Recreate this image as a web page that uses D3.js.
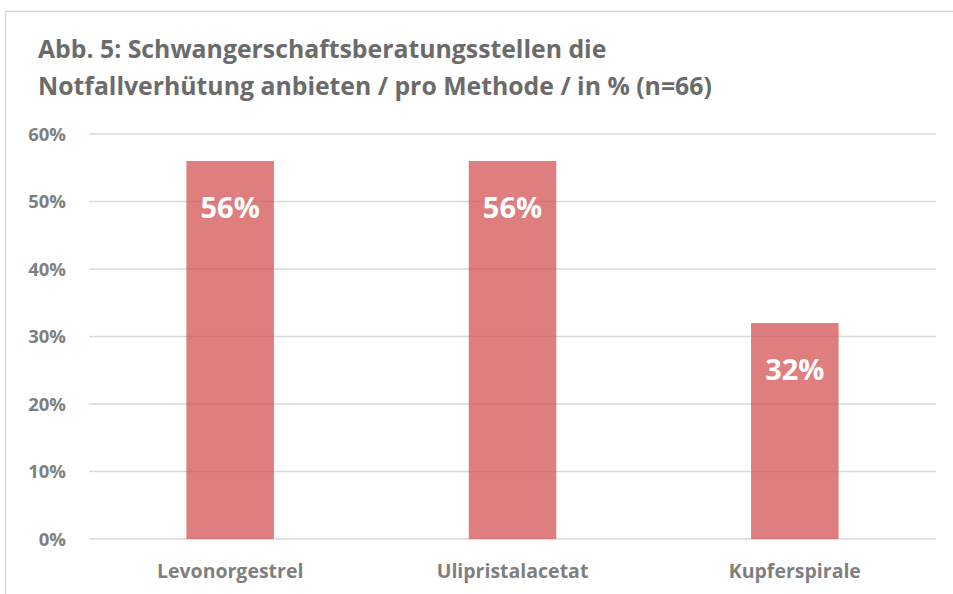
<!DOCTYPE html>
<html lang="de">
<head>
<meta charset="UTF-8"/>
<title>Abb. 5 Notfallverhütung</title>
<script src="https://d3js.org/d3.v7.min.js"></script>
<style>
  body { margin: 0; background: #fff; }
  svg { display: block; }
  text { font-family: "Open Sans", Lato, sans-serif; font-weight: bold; }
</style>
</head>
<body>
<script>
  var w = 953;
  var h = 594;

  // data
  var titleLines = ["Abb. 5: Schwangerschaftsberatungsstellen die",
                    "Notfallverhütung anbieten / pro Methode / in %  (n=66)"];
  var methods = ["Levonorgestrel", "Ulipristalacetat", "Kupferspirale"];
  var percents = [56, 56, 32];
  var yTicks = [0, 10, 20, 30, 40, 50, 60];

  var plot = { left: 89, right: 936, top: 134, bottom: 539 };

  var svg = d3.select("body")
              .append("svg")
              .attr("width", w)
              .attr("height", h);

  // chart frame (cropped at right and bottom)
  svg.append("rect")
     .attr("x", 5.5)
     .attr("y", 11.5)
     .attr("width", w + 20)
     .attr("height", h + 20)
     .attr("fill", "none")
     .attr("stroke", "#d9d9d9")
     .attr("stroke-width", 1.5);

  // title
  svg.selectAll("text.title")
     .data(titleLines)
     .enter()
     .append("text")
     .attr("class", "title")
     .attr("x", 38)
     .attr("y", function(d, i) { return 58 + i * 37; })
     .attr("font-size", "24.8px")
     .attr("fill", "#6b6b6b")
     .text(function(d) { return d; });

  var xScale = d3.scaleBand()
                 .domain(methods)
                 .range([plot.left, plot.right])
                 .paddingInner(0.69)
                 .paddingOuter(0.345);

  var yScale = d3.scaleLinear()
                 .domain([0, 60])
                 .range([plot.bottom, plot.top]);

  // gridlines
  svg.selectAll("line.grid")
     .data(yTicks)
     .enter()
     .append("line")
     .attr("class", "grid")
     .attr("x1", plot.left)
     .attr("x2", plot.right)
     .attr("y1", function(d) { return yScale(d); })
     .attr("y2", function(d) { return yScale(d); })
     .attr("stroke", "#d9d9d9")
     .attr("stroke-width", 1.5);

  // y tick labels
  svg.selectAll("text.ytick")
     .data(yTicks)
     .enter()
     .append("text")
     .attr("class", "ytick")
     .attr("x", 66)
     .attr("y", function(d) { return yScale(d); })
     .attr("dy", "0.36em")
     .attr("text-anchor", "end")
     .attr("font-size", "18.5px")
     .attr("fill", "#7f7f7f")
     .text(function(d) { return d + "%"; });

  // bars
  svg.selectAll("rect.bar")
     .data(percents)
     .enter()
     .append("rect")
     .attr("class", "bar")
     .attr("x", function(d, i) { return xScale(methods[i]); })
     .attr("y", function(d) { return yScale(d); })
     .attr("width", xScale.bandwidth())
     .attr("height", function(d) { return yScale(0) - yScale(d); })
     .attr("fill", "#d35353")
     .attr("fill-opacity", 0.75);

  // value labels inside bars
  svg.selectAll("text.value")
     .data(percents)
     .enter()
     .append("text")
     .attr("class", "value")
     .attr("x", function(d, i) { return xScale(methods[i]) + xScale.bandwidth() / 2; })
     .attr("y", function(d) { return yScale(d) + 57; })
     .attr("text-anchor", "middle")
     .attr("font-size", "29px")
     .attr("fill", "#ffffff")
     .text(function(d) { return d + "%"; });

  // category labels
  svg.selectAll("text.xlabel")
     .data(methods)
     .enter()
     .append("text")
     .attr("class", "xlabel")
     .attr("x", function(d) { return xScale(d) + xScale.bandwidth() / 2; })
     .attr("y", 578)
     .attr("text-anchor", "middle")
     .attr("font-size", "19.5px")
     .attr("fill", "#7f7f7f")
     .text(function(d) { return d; });
</script>
</body>
</html>
